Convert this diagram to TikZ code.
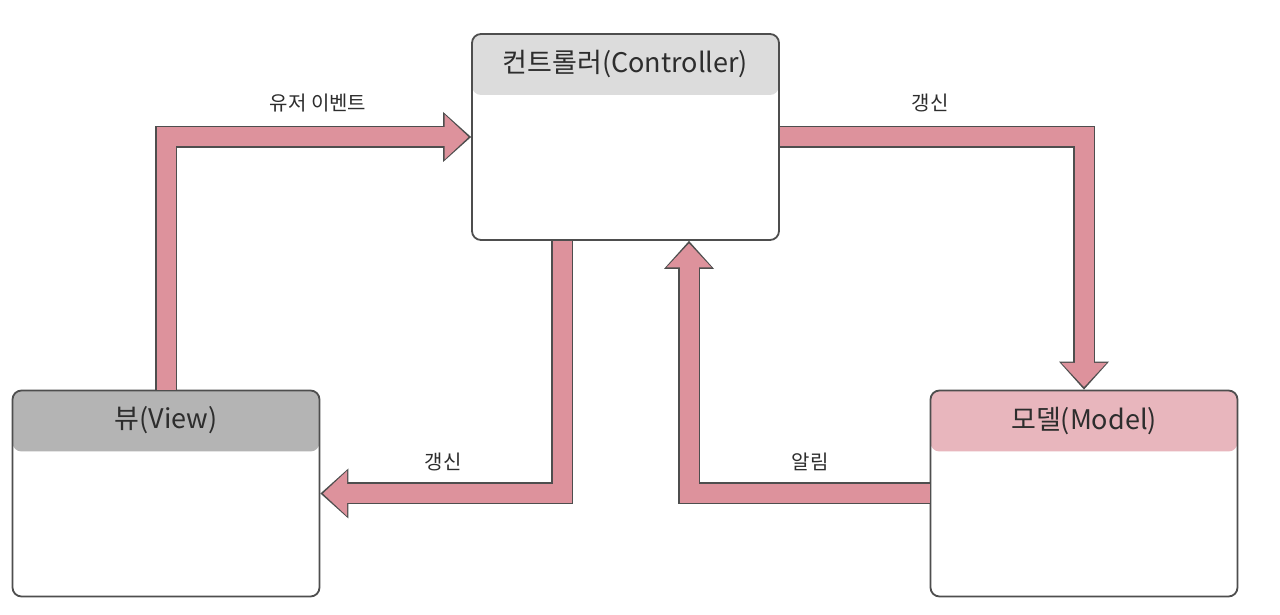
\documentclass[tikz,border=0pt]{standalone}
\usepackage{fontspec}
\setmainfont{Noto Sans CJK KR}
\usetikzlibrary{arrows.meta, positioning, calc}
\definecolor{colCtrl}{RGB}{220,220,220}
\definecolor{colView}{RGB}{180,180,180}
\definecolor{colModel}{RGB}{232,182,189}
\definecolor{colArr}{RGB}{221,146,156}
\definecolor{colEdge}{RGB}{78,78,78}
\definecolor{colText}{RGB}{45,45,45}
\tikzset{
  % component box with coloured header band
  box/.style={
    rectangle, rounded corners=9pt,
    draw=colEdge, line width=1.8pt, fill=white,
    minimum width=307pt, minimum height=206pt,
    inner sep=0pt,
    path picture={\fill[#1] (path picture bounding box.north west)
      rectangle ([yshift=-61pt]path picture bounding box.north east);},
  },
  title/.style={font=\fontsize{27}{31}\selectfont, text=colText},
  lbl/.style  ={font=\fontsize{20}{24}\selectfont, text=colText},
  % thick block arrow: dark outline, pink body
  flowArr/.style={
    draw=colEdge, line width=22pt, line join=miter, line cap=butt,
    -{Triangle[length=28pt, width=50pt, line width=0pt]},
    postaction={draw=colArr, line width=19pt, shorten >=2.6pt,
      -{Triangle[length=24pt, width=45pt, line width=0pt]}},
    postaction={draw=colArr, line width=19pt, shorten >=20pt, -},
  },
}
\begin{document}
\begin{tikzpicture}[x=1pt, y=1pt]
\fill[white] (0,0) rectangle (1280,615);
\useasboundingbox (0,0) rectangle (1280,615);

% ═══════════════════════════════════════════════════════════════
%  BOXES
% ═══════════════════════════════════════════════════════════════
\node[box=colCtrl]  (ctrl)  at (625.5,478)  {};
\node[box=colView]  (view)  at (166,121.5)  {};
\node[box=colModel] (model) at (1084,121.5) {};

\node[title] (ctrlTitle)  at ([yshift=-31pt]ctrl.north)  {컨트롤러(Controller)};
\node[title] (viewTitle)  at ([yshift=-31pt]view.north)  {뷰(View)};
\node[title] (modelTitle) at ([yshift=-31pt]model.north) {모델(Model)};

% ═══════════════════════════════════════════════════════════════
%  ARROWS
% ═══════════════════════════════════════════════════════════════
\draw[flowArr] (view.north) |- (ctrl.west);
\draw[flowArr] (ctrl.east) -| (model.north);
\draw[flowArr] ([xshift=-63.5pt]ctrl.south) |- (view.east);
\draw[flowArr] (model.west) -| ([xshift=63.5pt]ctrl.south);

% ── labels ──────────────────────────────────────────────────────
\node[lbl] (lblEvent)  at (318,512) {유저 이벤트};
\node[lbl] (lblUpdM)   at (930,512) {갱신};
\node[lbl] (lblUpdV)   at (443,153) {갱신};
\node[lbl] (lblNotify) at (810,153) {알림};

\end{tikzpicture}
\end{document}
